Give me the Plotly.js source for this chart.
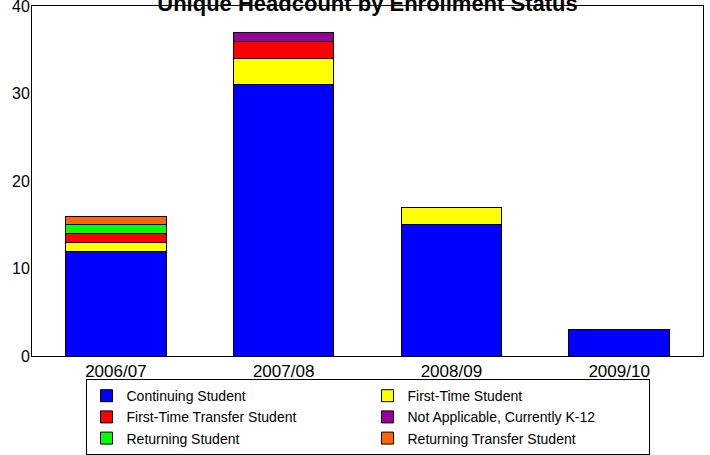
<!DOCTYPE html>
<html>
<head>
<meta charset="utf-8">
<script src="https://cdn.plot.ly/plotly-3.0.1.min.js"></script>
<style>html,body{margin:0;padding:0;background:#fff;}#chart{width:710px;height:455px;}</style>
</head>
<body>
<div id="chart"></div>
<script>
const years = ["2006/07", "2007/08", "2008/09", "2009/10"];
const seriesNames = ["Continuing Student", "First-Time Student", "First-Time Transfer Student", "Not Applicable, Currently K-12", "Returning Student", "Returning Transfer Student"];
const continuing = [12, 31, 15, 3];
const firstTime = [1, 3, 2, 0];
const firstTimeTransfer = [1, 2, 0, 0];
const notApplicable = [0, 1, 0, 0];
const returning = [1, 0, 0, 0];
const returningTransfer = [1, 0, 0, 0];
const seriesColors = ["#0000FF", "#FFFF00", "#FF0000", "#990099", "#00FF00", "#FF6600"];
const seriesValues = [continuing, firstTime, firstTimeTransfer, notApplicable, returning, returningTransfer];

const traces = seriesValues.map((vals, i) => ({
  type: "bar",
  name: seriesNames[i],
  x: years,
  y: vals,
  marker: {color: seriesColors[i], line: {color: "#000", width: 1}},
  width: 0.6,
  hoverinfo: "x+y+name"
}));

const layout = {
  width: 710, height: 455,
  barmode: "stack",
  margin: {l: 32, r: 7, t: 6, b: 99, autoexpand: false},
  paper_bgcolor: "#fff", plot_bgcolor: "#fff",
  font: {family: "Liberation Sans, Arial, sans-serif", size: 16, color: "#000"},
  title: {text: "<b>Unique Headcount by Enrollment Status</b>", x: 0.5, xref: "paper", y: 1.043, yref: "container", yanchor: "middle", font: {size: 22, color: "#000"}},
  xaxis: {range: [-0.5, 3.5], showline: true, mirror: true, linecolor: "#000", linewidth: 1, ticks: "", showgrid: false, zeroline: false, tickfont: {size: 17}},
  yaxis: {range: [0, 40], dtick: 10, showline: true, mirror: true, linecolor: "#000", linewidth: 1, ticks: "", showgrid: false, zeroline: false, tickfont: {size: 16}, ticklabelstandoff: -2, ticklabeloverflow: "allow"},
  legend: {orientation: "h", x: 0.5, xanchor: "center", y: -0.066, yanchor: "top", traceorder: "normal", bordercolor: "#000", borderwidth: 1, entrywidth: 236, entrywidthmode: "pixels", font: {size: 14}, tracegroupgap: 0},
  showlegend: true
};

Plotly.newPlot("chart", traces, layout, {displayModeBar: false, staticPlot: true});
</script>
</body>
</html>
